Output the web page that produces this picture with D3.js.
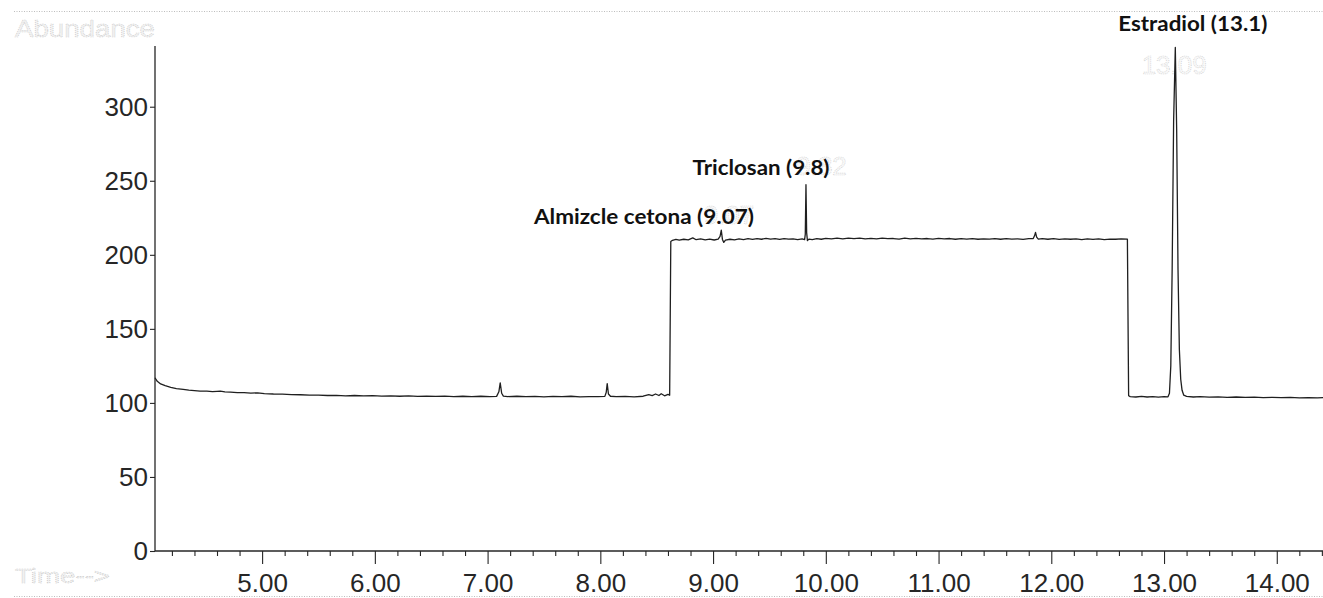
<!DOCTYPE html>
<html>
<head>
<meta charset="utf-8">
<script src="https://cdn.jsdelivr.net/npm/d3@7"></script>
<style>
  html, body { margin: 0; padding: 0; background: #fff; }
  svg { display: block; }
</style>
</head>
<body>
<svg id="chart" width="1323" height="598"></svg>
<script>
// Total ion chromatogram: retention time (min) vs. abundance
const retentionTime = [
  4.05, 4.07, 4.10, 4.14, 4.19, 4.24, 4.30, 4.35, 4.40, 4.45, 4.51, 4.56, 4.60, 4.63, 4.67, 4.72,
  4.78, 4.84, 4.90, 4.96, 5.02, 5.10, 5.18, 5.26, 5.34, 5.42, 5.50, 5.58, 5.66, 5.74, 5.82, 5.90,
  5.98, 6.06, 6.14, 6.22, 6.30, 6.38, 6.46, 6.54, 6.62, 6.70, 6.78, 6.86, 6.94, 7.02, 7.08, 7.100,
  7.112, 7.125, 7.14, 7.18, 7.26, 7.34, 7.42, 7.50, 7.58, 7.66, 7.74, 7.82, 7.90, 7.98, 8.04, 8.052,
  8.061, 8.072, 8.09, 8.14, 8.22, 8.30, 8.38, 8.43, 8.46, 8.49, 8.52, 8.54, 8.57, 8.60, 8.615, 8.625,
  8.64, 8.67, 8.70, 8.74, 8.78, 8.82, 8.85, 8.89, 8.93, 8.97, 9.01, 9.045, 9.062, 9.073, 9.083, 9.095,
  9.11, 9.15, 9.19, 9.23, 9.27, 9.31, 9.35, 9.39, 9.43, 9.47, 9.51, 9.55, 9.59, 9.63, 9.67, 9.71,
  9.75, 9.79, 9.812, 9.818, 9.824, 9.830, 9.837, 9.85, 9.88, 9.92, 9.96, 10.00, 10.05, 10.10, 10.15, 10.20,
  10.25, 10.30, 10.35, 10.40, 10.45, 10.50, 10.55, 10.60, 10.65, 10.70, 10.75, 10.80, 10.85, 10.90, 10.95, 11.00,
  11.05, 11.10, 11.15, 11.20, 11.25, 11.30, 11.35, 11.40, 11.45, 11.50, 11.55, 11.60, 11.65, 11.70, 11.75, 11.80,
  11.84, 11.852, 11.860, 11.870, 11.885, 11.92, 11.97, 12.02, 12.07, 12.12, 12.17, 12.22, 12.27, 12.32, 12.37, 12.42,
  12.47, 12.52, 12.57, 12.62, 12.675, 12.686, 12.70, 12.75, 12.80, 12.85, 12.90, 12.95, 13.00, 13.035, 13.048, 13.060,
  13.072, 13.085, 13.100, 13.112, 13.124, 13.136, 13.148, 13.160, 13.175, 13.20, 13.26, 13.32, 13.40, 13.48, 13.56, 13.64,
  13.72, 13.80, 13.88, 13.96, 14.04, 14.12, 14.20, 14.28, 14.36, 14.41
];
const abundance = [
  117.0, 114.6, 112.8, 111.6, 110.5, 109.7, 109.2, 108.6, 108.3, 108.0, 107.9, 107.6, 107.8, 108.0, 107.5, 107.3,
  106.9, 107.0, 106.6, 106.8, 106.3, 106.0, 105.9, 105.6, 105.5, 105.2, 105.3, 105.0, 105.1, 104.8, 105.0, 104.7,
  104.9, 104.6, 104.8, 104.5, 104.7, 104.4, 104.6, 104.4, 104.6, 104.3, 104.5, 104.2, 104.5, 104.3, 104.4, 107.5,
  113.5, 106.5, 104.6, 104.3, 104.5, 104.2, 104.4, 104.1, 104.4, 104.2, 104.5, 104.1, 104.3, 104.2, 104.4, 107.0,
  113.0, 106.0, 104.5, 104.2, 104.4, 104.1, 104.5, 105.6, 104.9, 106.0, 105.0, 106.2, 104.8, 105.8, 105.2, 209.0,
  209.8, 210.4, 209.9, 210.5, 210.1, 211.4, 210.2, 210.7, 210.1, 210.6, 210.0, 210.6, 212.5, 216.6, 210.4, 208.4,
  209.9, 210.5, 210.1, 210.8, 210.3, 210.9, 210.4, 211.0, 210.5, 211.1, 210.6, 210.9, 210.4, 211.0, 210.6, 210.8,
  210.3, 210.7, 210.2, 214.0, 247.3, 215.0, 209.6, 210.6, 210.2, 210.9, 210.5, 211.1, 210.7, 211.2, 210.8, 211.3,
  210.9, 211.2, 210.7, 211.1, 210.8, 211.3, 210.9, 211.0, 210.6, 211.2, 210.8, 211.1, 210.7, 211.0, 210.6, 211.1,
  210.7, 211.0, 210.5, 210.9, 210.6, 211.0, 210.5, 210.8, 210.6, 211.0, 210.5, 210.9, 210.6, 210.8, 210.4, 210.9,
  211.0, 213.0, 215.2, 212.0, 210.6, 211.0, 210.5, 210.9, 210.4, 210.8, 210.5, 210.7, 210.3, 210.8, 210.4, 210.7,
  210.3, 210.6, 210.5, 210.8, 210.6, 104.8, 104.2, 104.0, 104.4, 104.0, 104.3, 103.9, 104.2, 104.1, 106.5, 125.0,
  190.0, 290.0, 340.0, 285.0, 190.0, 136.0, 116.0, 108.5, 105.2, 104.4, 104.0, 104.3, 103.9, 104.1, 103.8, 104.0,
  103.7, 103.9, 103.6, 103.8, 103.5, 103.7, 103.4, 103.6, 103.4, 103.5
];

const yTickValues = [0, 50, 100, 150, 200, 250, 300];
const xMajorTicks = [5, 6, 7, 8, 9, 10, 11, 12, 13, 14];
const xTickLabels = ["5.00", "6.00", "7.00", "8.00", "9.00", "10.00", "11.00", "12.00", "13.00", "14.00"];
const xMinorTicks = [4.2, 4.4, 4.6, 4.8, 5.2, 5.4, 5.6, 5.8, 6.2, 6.4, 6.6, 6.8, 7.2, 7.4, 7.6, 7.8,
  8.2, 8.4, 8.6, 8.8, 9.2, 9.4, 9.6, 9.8, 10.2, 10.4, 10.6, 10.8, 11.2, 11.4, 11.6, 11.8,
  12.2, 12.4, 12.6, 12.8, 13.2, 13.4, 13.6, 13.8, 14.2, 14.4];

// Integrator retention-time labels (printed faint)
const rtLabels = ["13.09", "9.82", "9.07"];
const rtTimes = [13.09, 9.82, 9.07];
const rtLevels = [322, 254, 221];

// Compound annotations
const compoundNames = ["Estradiol (13.1)", "Triclosan (9.8)", "Almizcle cetona (9.07)"];
const compoundTimes = [13.10, 9.82, 9.07];
const compoundLevels = [351, 254, 221];

const svg = d3.select("#chart");
const W = 1323;
const plot = { left: 155, right: 1323, top: 46, bottom: 551 };

const x = d3.scaleLinear().domain([4.05, 14.41]).range([plot.left, plot.right]);
const y = d3.scaleLinear().domain([0, 341]).range([plot.bottom, plot.top]);

const ink = "#262626";
const faint = "#d0d0d0";
const sans = "Liberation Sans, Arial, sans-serif";

// dotted rules at the top and bottom of the printout
[11.5, 596.5].forEach(yy => {
  svg.append("line").attr("x1", 14).attr("x2", W).attr("y1", yy).attr("y2", yy)
    .attr("stroke", "#bdbdbd").attr("stroke-width", 1).attr("stroke-dasharray", "1,1.5");
});

// axis titles (printed pale)
svg.append("text").attr("x", 15).attr("y", 37).text("Abundance")
  .attr("font-family", sans).attr("font-size", 24)
  .attr("textLength", 140).attr("lengthAdjust", "spacingAndGlyphs")
  .attr("fill", "#f2f2f2").attr("stroke", "#c8c8c8").attr("stroke-width", 0.6)
  .attr("stroke-dasharray", "1,1");
svg.append("text").attr("x", 15).attr("y", 583).text("Time-->")
  .attr("font-family", sans).attr("font-size", 21)
  .attr("textLength", 95).attr("lengthAdjust", "spacingAndGlyphs")
  .attr("fill", "#f2f2f2").attr("stroke", "#c8c8c8").attr("stroke-width", 0.6)
  .attr("stroke-dasharray", "1,1");

// y axis
const yAxis = svg.append("g").attr("transform", `translate(${plot.left},0)`)
  .call(d3.axisLeft(y).tickValues(yTickValues).tickSize(5).tickPadding(2).tickSizeOuter(0)
    .tickFormat(d3.format("d")));
yAxis.select(".domain").attr("stroke", ink).attr("stroke-width", 1.3)
  .attr("d", `M0,${plot.bottom}V${plot.top}`);
yAxis.selectAll(".tick line").attr("stroke", ink).attr("stroke-width", 1.1);
yAxis.selectAll(".tick text").attr("fill", ink).attr("font-family", sans).attr("font-size", 26);

// x axis: minor ticks every 0.2 min, labelled major ticks every minute
const xMinor = svg.append("g").attr("transform", `translate(0,${plot.bottom})`)
  .call(d3.axisBottom(x).tickValues(xMinorTicks).tickSize(5).tickFormat("").tickSizeOuter(0));
xMinor.select(".domain").attr("stroke", ink).attr("stroke-width", 1.3)
  .attr("d", `M${plot.left},0H${plot.right}`);
xMinor.selectAll(".tick line").attr("stroke", ink).attr("stroke-width", 1.1);

const xMajor = svg.append("g").attr("transform", `translate(0,${plot.bottom})`)
  .call(d3.axisBottom(x).tickValues(xMajorTicks).tickSize(13).tickSizeOuter(0)
    .tickFormat((d, i) => xTickLabels[i]));
xMajor.select(".domain").remove();
xMajor.selectAll(".tick line").attr("stroke", ink).attr("stroke-width", 1.1);
xMajor.selectAll(".tick text").attr("fill", ink).attr("y", 41).attr("dy", null)
  .attr("font-family", sans).attr("font-size", 26);

// faint retention-time labels
const rtOffsets = [0, 16, 8];
svg.append("g").selectAll("text").data(rtLabels).join("text")
  .attr("x", (d, i) => x(rtTimes[i]) + rtOffsets[i])
  .attr("y", (d, i) => y(rtLevels[i]))
  .attr("text-anchor", "middle")
  .attr("font-family", sans).attr("font-size", 26)
  .attr("fill", "#fafafa").attr("stroke", faint).attr("stroke-width", 0.7)
  .attr("stroke-dasharray", "1,1")
  .text(d => d);

// chromatogram trace
const series = retentionTime.map((t, i) => ({ t, v: abundance[i] }));
svg.append("path").datum(series)
  .attr("fill", "none").attr("stroke", "#1f1f1f").attr("stroke-width", 1.3)
  .attr("stroke-linejoin", "round")
  .attr("d", d3.line().x(d => x(d.t)).y(d => y(d.v)));

// compound annotations, placed relative to their peaks
const nameShift = [-57, -113, -187];
const nameWidth = [149, 137, 220];
svg.append("g").selectAll("text").data(compoundNames).join("text")
  .attr("x", (d, i) => x(compoundTimes[i]) + nameShift[i])
  .attr("y", (d, i) => y(compoundLevels[i]))
  .attr("textLength", (d, i) => nameWidth[i]).attr("lengthAdjust", "spacingAndGlyphs")
  .attr("font-family", "Lato, 'Open Sans', sans-serif").attr("font-weight", 700)
  .attr("font-size", 20).attr("fill", "#111")
  .text(d => d);
</script>
</body>
</html>
